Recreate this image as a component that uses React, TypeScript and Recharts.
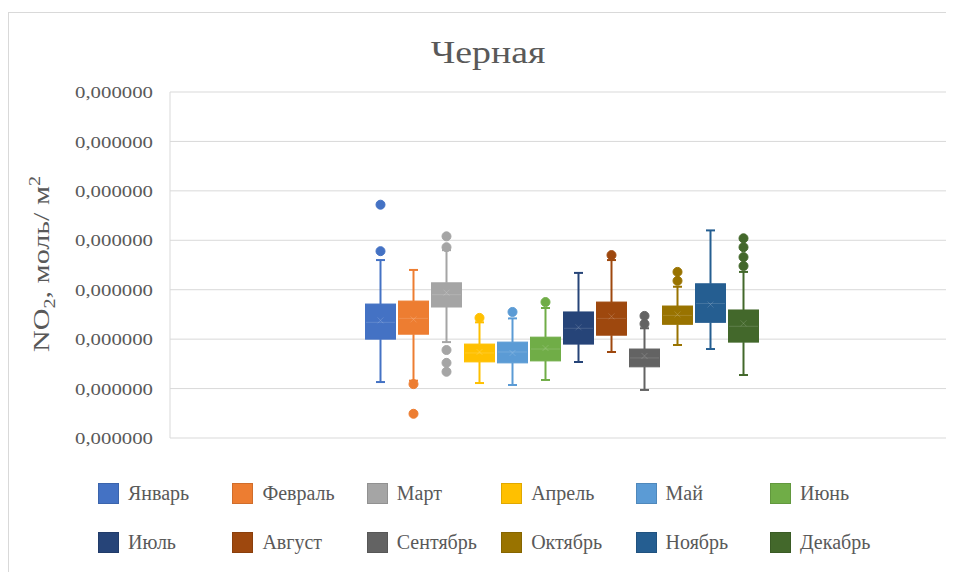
import { BarChart, Bar, XAxis, YAxis, CartesianGrid, Legend } from 'recharts'

// values are stored in units of 1e-8 mol/m²
const UNIT = 1e-8

const months = ['Январь', 'Февраль', 'Март', 'Апрель', 'Май', 'Июнь', 'Июль', 'Август', 'Сентябрь', 'Октябрь', 'Ноябрь', 'Декабрь']
const colors = ['#4472C4', '#ED7D31', '#A5A5A5', '#FFC000', '#5B9BD5', '#70AD47', '#264478', '#9E480E', '#636363', '#997300', '#255E91', '#43682B']

const whiskerLow = [5.66, 5.8, 9.7, 5.56, 5.36, 5.87, 7.69, 8.7, 4.86, 9.41, 9.0, 6.37]
const q1 = [10.0, 10.5, 13.25, 7.7, 7.6, 7.8, 9.5, 10.4, 7.2, 11.5, 11.7, 9.7]
const medians = [11.7, 12.1, 14.5, 8.6, 8.7, 9.0, 11.1, 12.1, 8.1, 12.4, 13.6, 11.3]
const means = [11.9, 12.0, 14.7, 8.7, 8.6, 9.1, 11.2, 12.3, 8.3, 12.5, 13.5, 11.6]
const q3 = [13.55, 13.85, 15.7, 9.5, 9.7, 10.2, 12.75, 13.75, 9.0, 13.35, 15.6, 12.95]
const whiskerHigh = [18.0, 17.0, 19.0, 11.7, 12.1, 13.15, 16.7, 18.0, 11.1, 15.3, 21.0, 16.8]
const outliers = [
  [18.9, 23.6],
  [5.45, 2.45],
  [20.4, 19.3, 8.9, 7.6, 6.7],
  [12.15],
  [12.75],
  [13.75],
  [],
  [18.5],
  [12.35, 11.55],
  [16.8, 15.9],
  [],
  [20.2, 19.3, 18.3, 17.4],
]

const yTicks = [0, 5, 10, 15, 20, 25, 30, 35]

const row: Record<string, any> = { name: 'Черная' }
months.forEach((_, i) => { row[`m${i}`] = [q1[i], q3[i]] })
const data = [row]

const TEXT = '#595959'
const SERIF = '"Liberation Serif", "Times New Roman", serif'

const boxShape = (i: number) => (props: any) => {
  const { x, y, width, height } = props
  const top = Math.min(y, y + height)
  const h = Math.abs(height)
  const k = h / (q3[i] - q1[i])
  const py = (v: number) => top + (q3[i] - v) * k
  const cx = x + width / 2
  const c = colors[i]
  const cap = 4.5
  const mY = py(means[i])
  return (
    <g>
      <line x1={cx} x2={cx} y1={py(whiskerHigh[i])} y2={top} stroke={c} strokeWidth={2} />
      <line x1={cx} x2={cx} y1={top + h} y2={py(whiskerLow[i])} stroke={c} strokeWidth={2} />
      <line x1={cx - cap} x2={cx + cap} y1={py(whiskerHigh[i])} y2={py(whiskerHigh[i])} stroke={c} strokeWidth={2} />
      <line x1={cx - cap} x2={cx + cap} y1={py(whiskerLow[i])} y2={py(whiskerLow[i])} stroke={c} strokeWidth={2} />
      <rect x={x + 0.5} y={top} width={width - 1} height={h} fill={c} stroke={c} strokeWidth={1} />
      <line x1={x + 1} x2={x + width - 1} y1={py(medians[i])} y2={py(medians[i])} stroke="#ffffff" strokeOpacity={0.15} strokeWidth={1} />
      <path d={`M${cx - 3},${mY - 3}L${cx + 3},${mY + 3}M${cx - 3},${mY + 3}L${cx + 3},${mY - 3}`} stroke="#ffffff" strokeOpacity={0.15} strokeWidth={1} />
      {outliers[i].map((v, j) => (
        <circle key={j} cx={cx} cy={py(v)} r={4.5} fill={c} stroke={c} strokeWidth={1} />
      ))}
    </g>
  )
}

const AxisTick = (props: any) => {
  const { x, y, payload } = props
  return (
    <text x={x} y={y} dy="0.35em" textAnchor="end" fill={TEXT} fontFamily={SERIF} fontSize={17.5} textLength={78} lengthAdjust="spacingAndGlyphs">
      {(payload.value * UNIT).toFixed(6).replace('.', ',')}
    </text>
  )
}

const YLabel = () => (
  <text transform="translate(49,264) rotate(-90)" textAnchor="middle" fill={TEXT} fontFamily={SERIF} fontSize={24} textLength={176} lengthAdjust="spacingAndGlyphs">
    NO<tspan fontSize={16} dy={6}>2</tspan><tspan dy={-6}>, моль/ м</tspan><tspan fontSize={16} dy={-9}>2</tspan>
  </text>
)

// legend follows series order (Recharts sorts payload by name otherwise)
const LegendContent = () => (
  <div style={{ display: 'grid', gridTemplateColumns: 'repeat(6, 134.4px)' }}>
    {months.map((m, i) => (
      <div key={m} style={{ display: 'flex', alignItems: 'center', height: 49 }}>
        <span style={{ width: 21, height: 21, background: colors[i], boxShadow: 'inset 0 0 0 1px rgba(0,0,0,0.12)', marginRight: 9, flex: 'none' }} />
        <span style={{ fontFamily: SERIF, fontSize: 20, color: TEXT, whiteSpace: 'nowrap' }}>{m}</span>
      </div>
    ))}
  </div>
)

export default function App() {
  return (
    <div style={{ position: 'relative', width: 954, height: 580, margin: -8, background: '#fff', overflow: 'hidden' }}>
      <div style={{ position: 'absolute', left: 8, top: 12, width: 960, height: 580, borderTop: '1px solid #d9d9d9', borderLeft: '1px solid #d9d9d9' }} />
      <div style={{ position: 'absolute', left: 488, top: 37, transform: 'translateX(-50%) scaleX(1.22)', fontFamily: SERIF, fontSize: 31, lineHeight: '31px', color: TEXT, whiteSpace: 'nowrap' }}>
        Черная
      </div>
      <BarChart
        width={954}
        height={580}
        data={data}
        margin={{ top: 92, right: 4, bottom: 142, left: 0 }}
        barCategoryGap="25%"
        barGap={2}
        style={{ position: 'absolute', left: 0, top: 0 }}
      >
        <CartesianGrid vertical={false} stroke="#d9d9d9" />
        <XAxis dataKey="name" hide />
        <YAxis
          width={170}
          domain={[0, 35]}
          ticks={yTicks}
          interval={0}
          tickLine={false}
          tickSize={6}
          tickMargin={11}
          axisLine={{ stroke: '#d9d9d9' }}
          tick={<AxisTick />}
          label={<YLabel />}
        />
        <Legend
          verticalAlign="middle"
          layout="horizontal"
          wrapperStyle={{ left: 98, top: 469, width: 830 }}
          content={<LegendContent />}
        />
        {months.map((m, i) => (
          <Bar key={m} dataKey={`m${i}`} name={m} fill={colors[i]} isAnimationActive={false} shape={boxShape(i)} activeBar={false} />
        ))}
      </BarChart>
    </div>
  )
}
